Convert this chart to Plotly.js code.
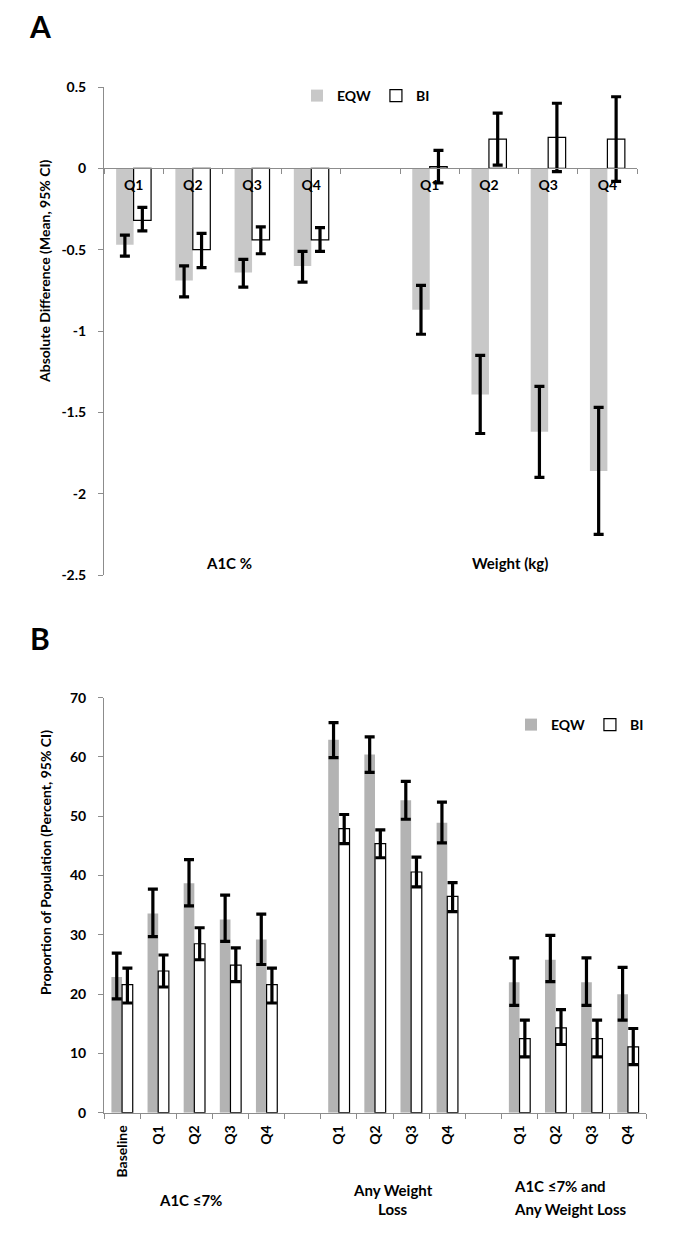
<!DOCTYPE html>
<html>
<head>
<meta charset="utf-8">
<script src="https://cdn.plot.ly/plotly-3.0.1.min.js"></script>
<style>
  html, body { margin: 0; padding: 0; background: #ffffff; }
  #chart { width: 674px; height: 1253px; }
</style>
</head>
<body>
<div id="chart"></div>
<script>
// ---------- Panel A data: absolute difference (mean, 95% CI) ----------
var catsA = ["Q1", "Q2", "Q3", "Q4", "", "Q1", "Q2", "Q3", "Q4"];
var eqwA    = [-0.47, -0.69, -0.64, -0.60, null, -0.87, -1.39, -1.62, -1.86];
var eqwA_lo = [-0.54, -0.79, -0.73, -0.70, null, -1.02, -1.63, -1.90, -2.25];
var eqwA_hi = [-0.41, -0.60, -0.56, -0.51, null, -0.72, -1.15, -1.34, -1.47];
var biA     = [-0.32, -0.50, -0.44, -0.44, null, 0.01, 0.18, 0.19, 0.18];
var biA_lo  = [-0.385, -0.61, -0.525, -0.51, null, -0.09, 0.02, -0.02, -0.08];
var biA_hi  = [-0.24, -0.40, -0.36, -0.365, null, 0.11, 0.34, 0.40, 0.44];
var yTicksA = [0.5, 0, -0.5, -1, -1.5, -2, -2.5];
var yTickTextA = ["0.5", "0", "-0.5", "-1", "-1.5", "-2", "-2.5"];
var groupsA = ["A1C %", "Weight (kg)"];

// ---------- Panel B data: proportion of population (percent, 95% CI) ----------
var catsB = ["Baseline", "Q1", "Q2", "Q3", "Q4", "", "Q1", "Q2", "Q3", "Q4", "", "Q1", "Q2", "Q3", "Q4"];
var eqwB    = [22.9, 33.6, 38.7, 32.6, 29.2, null, 62.9, 60.4, 52.7, 48.9, null, 22.0, 25.8, 22.0, 20.0];
var eqwB_lo = [19.2, 29.7, 34.9, 28.9, 25.0, null, 59.9, 57.4, 49.5, 45.5, null, 18.1, 22.1, 18.1, 15.6];
var eqwB_hi = [26.9, 37.7, 42.7, 36.7, 33.5, null, 65.8, 63.4, 55.9, 52.4, null, 26.1, 29.9, 26.1, 24.5];
var biB     = [21.6, 23.9, 28.5, 24.9, 21.6, null, 47.9, 45.4, 40.6, 36.5, null, 12.5, 14.3, 12.5, 11.1];
var biB_lo  = [18.5, 21.2, 25.8, 22.1, 18.5, null, 45.4, 43.0, 38.1, 33.9, null, 9.4, 11.5, 9.4, 8.1];
var biB_hi  = [24.4, 26.6, 31.2, 27.8, 24.4, null, 50.3, 47.7, 43.1, 38.8, null, 15.6, 17.4, 15.6, 14.2];
var yTicksB = [0, 10, 20, 30, 40, 50, 60, 70];
var groupsB = ["A1C ≤7%", "Any Weight", "Loss", "A1C ≤7% and", "Any Weight Loss"];

var seriesNames = ["EQW", "BI"];

// ---------- helpers ----------
function idx(arr) { return arr.map(function (_, i) { return i; }); }
function plus(v, hi) { return v.map(function (d, i) { return d === null ? null : +(hi[i] - d).toFixed(4); }); }
function minus(v, lo) { return v.map(function (d, i) { return d === null ? null : +(d - lo[i]).toFixed(4); }); }

var FONT = "Lato, 'Open Sans', 'DejaVu Sans', sans-serif";
var AXIS_GRAY = "#8c8c8c";
var GRAY_A = "#c8c8c8";
var GRAY_B = "#b3b3b3";

function errBar(v, lo, hi) {
  return { type: "data", symmetric: false, array: plus(v, hi), arrayminus: minus(v, lo),
           color: "#000000", thickness: 3.2, width: 5, visible: true };
}

var traces = [
  { type: "bar", name: seriesNames[0], x: idx(catsA), y: eqwA, xaxis: "x", yaxis: "y",
    marker: { color: GRAY_A, line: { width: 0 } }, error_y: errBar(eqwA, eqwA_lo, eqwA_hi),
    legend: "legend", hoverinfo: "y" },
  { type: "bar", name: seriesNames[1], x: idx(catsA), y: biA, xaxis: "x", yaxis: "y",
    marker: { color: "#ffffff", line: { color: "#000000", width: 1.2 } }, error_y: errBar(biA, biA_lo, biA_hi),
    legend: "legend", hoverinfo: "y" },
  { type: "bar", name: seriesNames[0], x: idx(catsB), y: eqwB, xaxis: "x2", yaxis: "y2",
    marker: { color: GRAY_B, line: { width: 0 } }, error_y: errBar(eqwB, eqwB_lo, eqwB_hi),
    legend: "legend2", hoverinfo: "y" },
  { type: "bar", name: seriesNames[1], x: idx(catsB), y: biB, xaxis: "x2", yaxis: "y2",
    marker: { color: "#ffffff", line: { color: "#000000", width: 1.2 } }, error_y: errBar(biB, biB_lo, biB_hi),
    legend: "legend2", hoverinfo: "y" }
];

var W = 674, H = 1253;
function px(x) { return x / W; }
function py(y) { return (H - y) / H; }

var tickFont = { family: FONT, size: 14, color: "#000000", weight: 700 };
var labFont = { family: FONT, size: 15, color: "#000000", weight: 700 };
var titleFont = { family: FONT, size: 14, color: "#000000", weight: 700 };

function note(text, x, y, opts) {
  var a = { text: text, x: px(x), y: py(y), xref: "paper", yref: "paper", showarrow: false,
            xanchor: "center", yanchor: "middle", font: labFont };
  if (opts) { for (var k in opts) { a[k] = opts[k]; } }
  return a;
}

var layout = {
  width: W, height: H,
  margin: { l: 0, r: 0, t: 0, b: 0 },
  paper_bgcolor: "#ffffff", plot_bgcolor: "rgba(0,0,0,0)",
  font: { family: FONT, color: "#000000" },
  barmode: "group", bargap: 0.41, bargroupgap: 0,
  showlegend: true,
  xaxis: {
    domain: [px(104), px(637)], anchor: "free", position: py(167.7),
    range: [-0.5, catsA.length - 0.5], tickmode: "array", tickvals: idx(catsA), ticktext: catsA,
    ticks: "", showline: true, linecolor: AXIS_GRAY, linewidth: 1, showgrid: false, zeroline: false,
    tickfont: tickFont, ticklabelstandoff: 4,
    minor: { tickmode: "linear", tick0: -0.5, dtick: 1, ticks: "outside", ticklen: 5, tickcolor: AXIS_GRAY, tickwidth: 1, showgrid: false },
    fixedrange: true
  },
  yaxis: {
    domain: [py(575), py(87)], anchor: "x", range: [-2.5, 0.5],
    tickmode: "array", tickvals: yTicksA, ticktext: yTickTextA,
    ticks: "outside", ticklen: 5, tickcolor: AXIS_GRAY, showline: true, linecolor: AXIS_GRAY, linewidth: 1,
    showgrid: false, zeroline: false, tickfont: tickFont, ticklabelstandoff: 9, fixedrange: true
  },
  xaxis2: {
    domain: [px(104), px(646)], anchor: "y2",
    range: [-0.5, catsB.length - 0.5], tickmode: "array", tickvals: idx(catsB), ticktext: catsB,
    tickangle: -90, ticks: "", showline: true, linecolor: AXIS_GRAY, linewidth: 1, showgrid: false, zeroline: false,
    tickfont: tickFont, ticklabelstandoff: 6,
    minor: { tickmode: "linear", tick0: -0.5, dtick: 1, ticks: "outside", ticklen: 5, tickcolor: AXIS_GRAY, tickwidth: 1, showgrid: false },
    fixedrange: true
  },
  yaxis2: {
    domain: [py(1112.7), py(697.7)], anchor: "x2", range: [0, 70],
    tickmode: "array", tickvals: yTicksB,
    ticks: "outside", ticklen: 5, tickcolor: AXIS_GRAY, showline: true, linecolor: AXIS_GRAY, linewidth: 1,
    showgrid: false, zeroline: false, tickfont: tickFont, ticklabelstandoff: 9, fixedrange: true
  },
  legend: {
    orientation: "h", x: px(366), y: py(96), xanchor: "center", yanchor: "middle",
    font: { family: FONT, size: 14, color: "#000000", weight: 700 }, bgcolor: "rgba(0,0,0,0)",
    itemwidth: 30, tracegroupgap: 0, itemclick: false, itemdoubleclick: false
  },
  legend2: {
    orientation: "h", x: px(580), y: py(725), xanchor: "center", yanchor: "middle",
    font: { family: FONT, size: 14, color: "#000000", weight: 700 }, bgcolor: "rgba(0,0,0,0)",
    itemwidth: 30, tracegroupgap: 0, itemclick: false, itemdoubleclick: false
  },
  annotations: [
    note("A", 40, 26, { font: { family: FONT, size: 30, color: "#000000", weight: 700 } }),
    note("B", 40, 638, { font: { family: FONT, size: 30, color: "#000000", weight: 700 } }),
    note("Absolute Difference (Mean, 95% CI)", 44, 271, { textangle: -90, font: titleFont }),
    note("Proportion of Population (Percent, 95% CI)", 45, 863, { textangle: -90, font: titleFont }),
    note(groupsA[0], 229, 563),
    note(groupsA[1], 510, 563),
    note(groupsB[0], 190, 1200),
    note(groupsB[1], 393, 1190),
    note(groupsB[2], 393, 1209),
    note(groupsB[3], 512, 1186, { xanchor: "left" }),
    note(groupsB[4], 512, 1209, { xanchor: "left" })
  ]
};

Plotly.newPlot("chart", traces, layout, { displayModeBar: false, staticPlot: true });
</script>
</body>
</html>
